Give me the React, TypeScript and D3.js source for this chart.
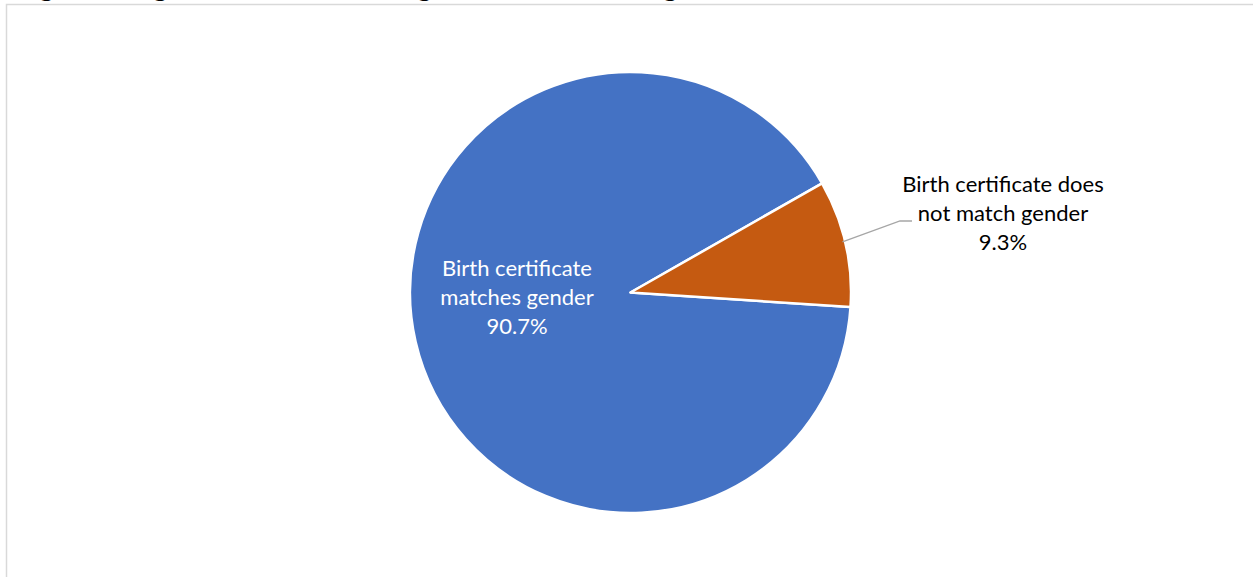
import React from "react";
import * as d3 from "d3";

const categories = ["Birth certificate matches gender", "Birth certificate does not match gender"];
const labelLines = [["Birth certificate", "matches gender"], ["Birth certificate does", "not match gender"]];
const values = [90.7, 9.3];
const colors = ["#4472C4", "#C55A11"];
const titleText = "Figure 8: Legal Documents Matching Lived Gender Among Trans Adults";

const W = 1253;
const H = 577;

export default function App() {
  const cx = 630.5;
  const cy = 292.5;
  const r = 220.5;
  const start = (93.8 * Math.PI) / 180;
  const pie = d3
    .pie<number>()
    .sort(null)
    .value((d) => d)
    .startAngle(start)
    .endAngle(start + 2 * Math.PI);
  const arcs = pie(values);
  const arc = d3.arc<d3.PieArcDatum<number>>().innerRadius(0).outerRadius(r);
  const fmt = (v: number) => d3.format(".1f")(v) + "%";

  const lineH = 29;
  const inside = { x: 517, y: 276 };
  const outside = { x: 1003, y: 192 };
  const orangeMid = (arcs[1].startAngle + arcs[1].endAngle) / 2;
  const edge = [Math.sin(orangeMid) * (r - 3), -Math.cos(orangeMid) * (r - 3)];
  const edgeAdj = [cx + edge[0], cy + edge[1] - 2];

  return (
    <svg
      width={W}
      height={H}
      style={{ position: "absolute", left: 0, top: 0, background: "#fff" }}
    >
      <rect x={0} y={0} width={W} height={H} fill="#fff" />
      <text
        x={17}
        y={-4}
        fontFamily="'Liberation Serif', 'Times New Roman', serif"
        fontWeight="bold"
        fontSize={26}
        fill="#000"
      >
        {titleText}
      </text>
      <rect x={6.5} y={4.5} width={1260} height={600} fill="none" stroke="#d9d9d9" strokeWidth={1.5} />
      <g transform={`translate(${cx},${cy})`}>
        {arcs.map((a, i) => (
          <path key={categories[i]} d={arc(a) || ""} fill={colors[i]} stroke="#fff" strokeWidth={2.5} strokeLinejoin="round" />
        ))}
      </g>
      <polyline
        points={`${edgeAdj[0]},${edgeAdj[1]} 900,221 912,221`}
        fill="none"
        stroke="#a6a6a6"
        strokeWidth={1.3}
      />
      <g fontFamily="Lato, 'Open Sans', sans-serif" fontSize={22} textAnchor="middle">
        {[...labelLines[0], fmt(values[0])].map((t, k) => (
          <text key={"a" + k} x={inside.x} y={inside.y + k * lineH} fill="#fff">
            {t}
          </text>
        ))}
        {[...labelLines[1], fmt(values[1])].map((t, k) => (
          <text key={"b" + k} x={outside.x} y={outside.y + k * lineH} fill="#000">
            {t}
          </text>
        ))}
      </g>
    </svg>
  );
}
